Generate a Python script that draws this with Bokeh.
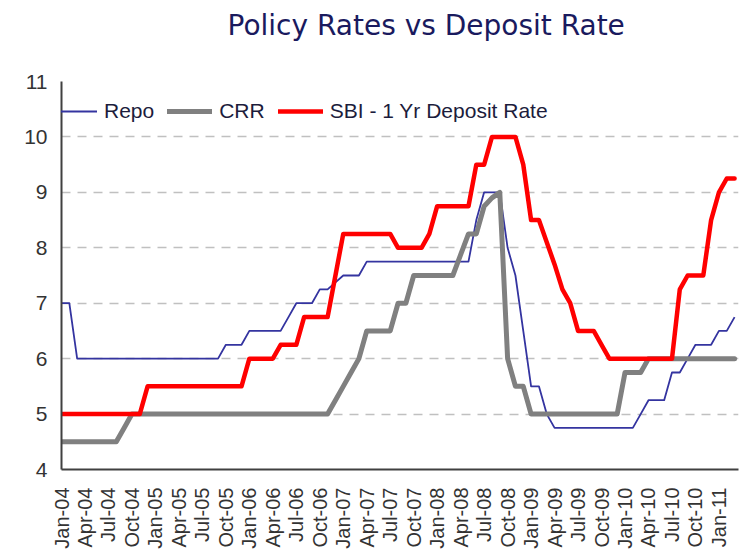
from bokeh.plotting import figure
from bokeh.models import Range1d, FixedTicker, Legend, LegendItem, ColumnDataSource, Title
from bokeh.embed import file_html
from bokeh.resources import INLINE

# Monthly values, Jan-04 .. Mar-11
repo = [7, 7,
        6, 6, 6, 6, 6, 6, 6, 6, 6, 6, 6, 6, 6, 6, 6, 6, 6, 6, 6,
        6.25, 6.25, 6.25,
        6.5, 6.5, 6.5, 6.5, 6.5,
        6.75,
        7.0, 7.0, 7.0,
        7.25, 7.25,
        7.375,
        7.5, 7.5, 7.5,
        7.75, 7.75, 7.75, 7.75, 7.75, 7.75, 7.75, 7.75, 7.75, 7.75, 7.75, 7.75, 7.75, 7.75,
        8.5,
        9.0, 9.0, 9.0,
        8.0, 7.5, 6.5,
        5.5, 5.5,
        5.0,
        4.75, 4.75, 4.75, 4.75, 4.75, 4.75, 4.75, 4.75, 4.75, 4.75, 4.75,
        5.0,
        5.25, 5.25, 5.25,
        5.75, 5.75,
        6.0,
        6.25, 6.25, 6.25,
        6.5, 6.5,
        6.75]

crr = [4.5, 4.5, 4.5, 4.5, 4.5, 4.5, 4.5, 4.5,
       4.75,
       5.0, 5.0, 5.0, 5.0, 5.0, 5.0, 5.0, 5.0, 5.0, 5.0, 5.0, 5.0, 5.0,
       5.0, 5.0, 5.0, 5.0, 5.0, 5.0, 5.0, 5.0, 5.0, 5.0, 5.0, 5.0, 5.0,
       5.25, 5.5, 5.75, 6.0,
       6.5, 6.5, 6.5, 6.5,
       7.0, 7.0,
       7.5, 7.5, 7.5, 7.5, 7.5, 7.5,
       7.875,
       8.25, 8.25,
       8.75, 8.9, 9.0,
       6.0,
       5.5, 5.5,
       5.0, 5.0, 5.0, 5.0, 5.0, 5.0, 5.0, 5.0, 5.0, 5.0, 5.0, 5.0,
       5.75, 5.75, 5.75,
       6.0, 6.0, 6.0, 6.0, 6.0, 6.0, 6.0, 6.0, 6.0, 6.0, 6.0, 6.0]

sbi = [5.0, 5.0, 5.0, 5.0, 5.0, 5.0, 5.0, 5.0, 5.0, 5.0, 5.0,
       5.5, 5.5, 5.5, 5.5, 5.5, 5.5, 5.5, 5.5, 5.5, 5.5, 5.5, 5.5, 5.5,
       6.0, 6.0, 6.0, 6.0,
       6.25, 6.25, 6.25,
       6.75, 6.75, 6.75, 6.75,
       7.5,
       8.25, 8.25, 8.25, 8.25, 8.25, 8.25, 8.25,
       8.0, 8.0, 8.0, 8.0,
       8.25,
       8.75, 8.75, 8.75, 8.75, 8.75,
       9.5, 9.5,
       10.0, 10.0, 10.0, 10.0,
       9.5,
       8.5, 8.5,
       8.1, 7.7, 7.25, 7.0,
       6.5, 6.5, 6.5,
       6.25,
       6.0, 6.0, 6.0, 6.0, 6.0, 6.0, 6.0, 6.0, 6.0,
       7.25,
       7.5, 7.5, 7.5,
       8.5, 9.0,
       9.25, 9.25]

tick_labels = ["Jan-04", "Apr-04", "Jul-04", "Oct-04",
               "Jan-05", "Apr-05", "Jul-05", "Oct-05",
               "Jan-06", "Apr-06", "Jul-06", "Oct-06",
               "Jan-07", "Apr-07", "Jul-07", "Oct-07",
               "Jan-08", "Apr-08", "Jul-08", "Oct-08",
               "Jan-09", "Apr-09", "Jul-09", "Oct-09",
               "Jan-10", "Apr-10", "Jul-10", "Oct-10",
               "Jan-11"]

title_text = "Policy Rates vs Deposit Rate"

months = list(range(len(repo)))
src = ColumnDataSource(dict(m=months, repo=repo, crr=crr, sbi=sbi))
tick_pos = [3 * k for k in range(len(tick_labels))]

p = figure(width=740, height=553, output_backend="svg", toolbar_location=None,
           x_range=Range1d(0, 86.5), y_range=Range1d(4, 11),
           min_border_left=61, min_border_right=2, min_border_top=81,
           min_border_bottom=84)

p.outline_line_color = None
p.background_fill_color = "white"

# spacer panel between frame and title, then the title itself (stacked outward)
p.add_layout(Title(text=" ", text_font="DejaVu Sans", text_font_size="20px",
                   standoff=9), "above")
p.add_layout(Title(text=title_text, text_font="DejaVu Sans", text_font_size="28px",
                   text_font_style="normal", text_color="#1a1a5e",
                   align="left", offset=166, standoff=10), "above")

r_repo = p.line("m", "repo", source=src, line_color="#3434a0", line_width=1.8,
                line_join="round")
r_crr = p.line("m", "crr", source=src, line_color="#808080", line_width=5,
               line_join="round", line_cap="round")
r_sbi = p.line("m", "sbi", source=src, line_color="#ff0000", line_width=4.5,
               line_join="round", line_cap="round")

# axes
for ax in (p.xaxis[0], p.yaxis[0]):
    ax.axis_line_color = "#404040"
    ax.axis_line_width = 2
    ax.major_tick_out = 0
    ax.major_tick_in = 0
    ax.minor_tick_out = 0
    ax.minor_tick_in = 0
    ax.major_label_text_font = "Liberation Sans"
    ax.major_label_text_color = "#333333"

p.yaxis.ticker = FixedTicker(ticks=list(range(4, 12)))
p.yaxis.major_label_text_font_size = "21px"
p.yaxis.major_label_standoff = 14

p.xaxis.ticker = FixedTicker(ticks=tick_pos)
p.xaxis.major_label_overrides = {t: lab for t, lab in zip(tick_pos, tick_labels)}
p.xaxis.major_label_orientation = 1.5707963
p.xaxis.major_label_text_font_size = "20px"
p.xaxis.major_label_standoff = 18

p.xgrid.visible = False
p.ygrid.grid_line_color = "#c0c0c0"
p.ygrid.grid_line_width = 1.5
p.ygrid.grid_line_dash = "9 7"

legend = Legend(items=[LegendItem(label="Repo", renderers=[r_repo]),
                       LegendItem(label="CRR", renderers=[r_crr]),
                       LegendItem(label="SBI - 1 Yr Deposit Rate", renderers=[r_sbi])],
                orientation="horizontal", location=(-9, 346),
                glyph_width=45, glyph_height=20, label_standoff=7, spacing=13,
                padding=0, margin=0, border_line_color=None,
                background_fill_alpha=0,
                label_text_font="Liberation Sans", label_text_font_size="21px",
                label_text_color="#1c1c3c")
p.add_layout(legend)

open("out.html", "w").write(file_html(p, INLINE))
